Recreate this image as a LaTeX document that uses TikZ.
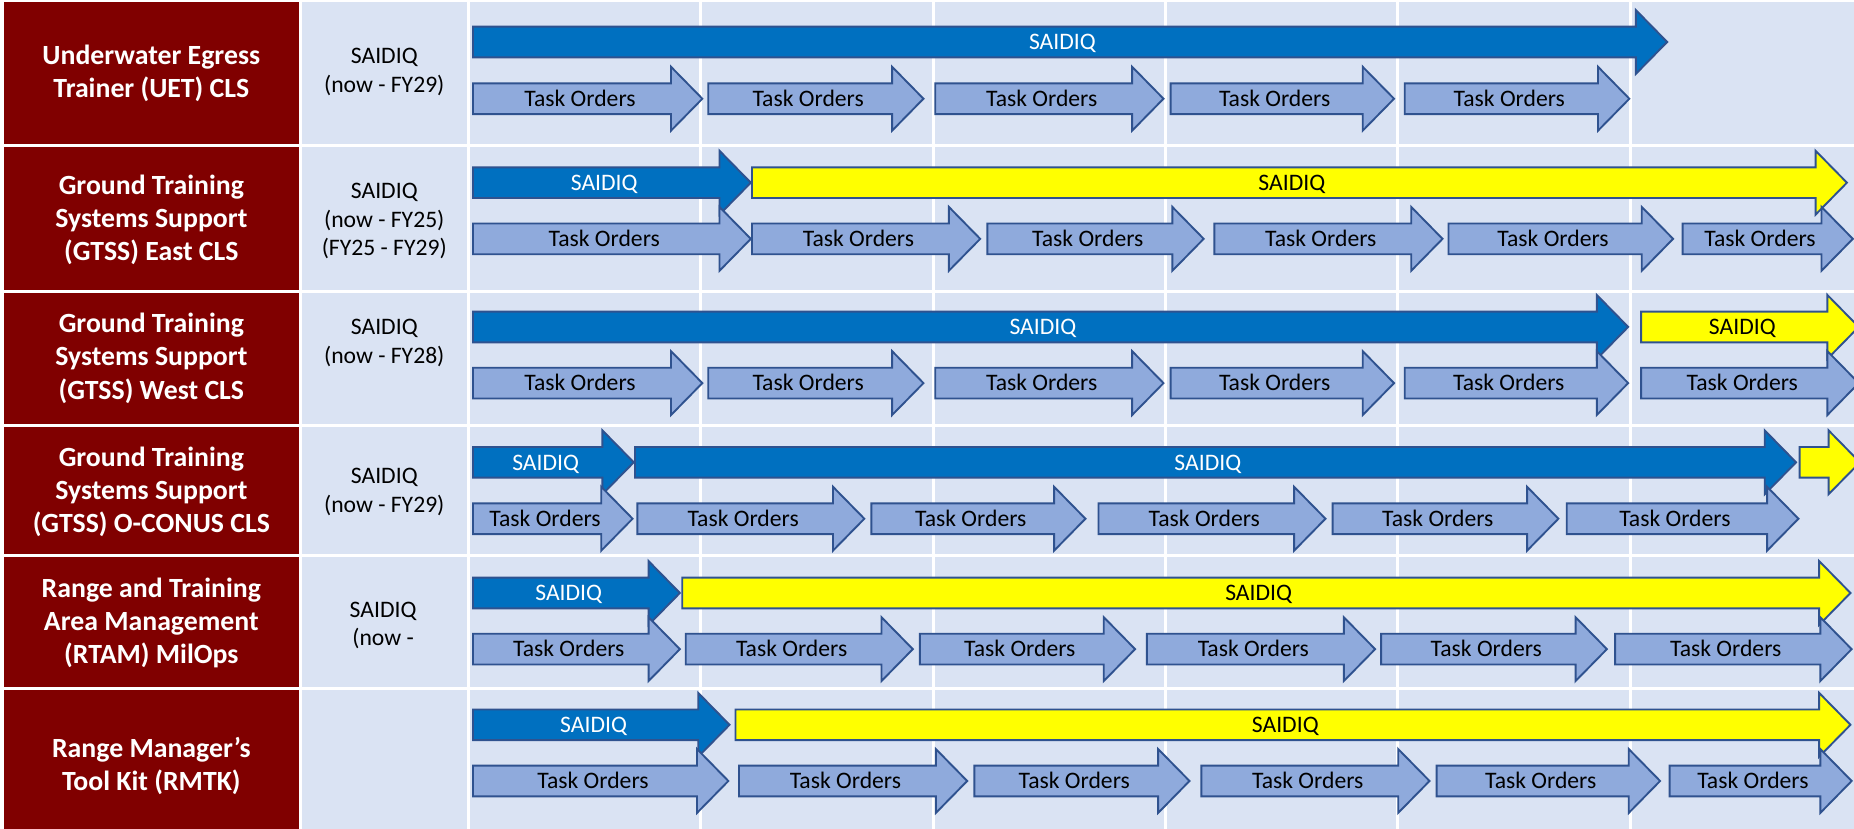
\documentclass[tikz,border=0pt]{standalone}
\usepackage{fontspec}
\setmainfont{Carlito}
\definecolor{darkred}{RGB}{128,0,0}
\definecolor{cellblue}{RGB}{218,227,243}
\definecolor{arrowblue}{RGB}{0,112,192}
\definecolor{edgeblue}{RGB}{47,82,143}
\definecolor{taskfill}{RGB}{143,170,220}
\definecolor{saidyel}{RGB}{255,255,0}
\tikzset{
  bluearr/.style={fill=arrowblue, draw=edgeblue, line width=1.6pt, line join=miter},
  yelarr/.style={fill=saidyel, draw=edgeblue, line width=1.6pt, line join=miter},
  taskarr/.style={fill=taskfill, draw=edgeblue, line width=1.6pt, line join=miter},
  arrtxt/.style={inner sep=0pt, anchor=base, font=\fontsize{20}{24}\selectfont},
  whitetxt/.style={arrtxt, text=white},
  blacktxt/.style={arrtxt, text=black},
  rowlabel/.style={inner sep=0pt, align=center, text=white, font=\fontsize{23.5}{28}\selectfont\bfseries},
  periodlabel/.style={inner sep=0pt, align=center, text=black, font=\fontsize{20}{24}\selectfont},
  gridline/.style={white, line width=2.6pt}
}
% name, x1, x2, yc, shape style, text style, text
\newcommand{\shapearrow}[7]{%
  \draw[#5] (#2,#4-13) -- (#3-26.5,#4-13) -- (#3-26.5,#4-27) -- (#3,#4)
    -- (#3-26.5,#4+27) -- (#3-26.5,#4+13) -- (#2,#4+13) -- cycle;
  \node[#6] (#1) at ({(#2+#3-13)/2},#4+6.5) {#7};
}
\begin{document}
\begin{tikzpicture}[x=1pt,y=-1pt]
\useasboundingbox (0,0) rectangle (1568,701);
\clip (0,0) rectangle (1568,701);
% background
\fill[white] (0,0) rectangle (1568,701);
\fill[cellblue] (255,1.5) rectangle (1568,701);
\fill[darkred] (3,1.5) rectangle (253,701);
% grid lines
\foreach \gx in {254,396,592.5,789.5,986,1182,1379}
  \draw[gridline] (\gx,0) -- (\gx,701);
\foreach \gy in {123.4,246.5,360,470.1,581.9}
  \draw[gridline] (0,\gy) -- (1568,\gy);

% column 1 labels
\node[rowlabel] (l1) at (128,62) {Underwater Egress\\Trainer (UET) CLS};
\node[rowlabel] (l2) at (128,186) {Ground Training\\Systems Support\\(GTSS) East CLS};
\node[rowlabel] (l3) at (128,303) {Ground Training\\Systems Support\\(GTSS) West CLS};
\node[rowlabel] (l4) at (128,416) {Ground Training\\Systems Support\\(GTSS) O-CONUS CLS};
\node[rowlabel] (l5) at (128,527) {Range and Training\\Area Management\\(RTAM) MilOps};
\node[rowlabel] (l6) at (128,648) {Range Manager’s\\Tool Kit (RMTK)};

% column 2 labels
\node[periodlabel] (p1) at (325,61) {SAIDIQ\\(now - FY29)};
\node[periodlabel] (p2) at (325,187) {SAIDIQ\\(now - FY25)\\(FY25 - FY29)};
\node[periodlabel] (p3) at (325,290) {SAIDIQ\\(now - FY28)};
\node[periodlabel] (p4) at (325,416) {SAIDIQ\\(now - FY29)};
\node[periodlabel] (p5) at (324,529) {SAIDIQ\\(now -};

% row 1
\shapearrow{s1a}{400}{1410}{35.5}{bluearr}{whitetxt}{SAIDIQ}
\shapearrow{t1a}{400}{594}{83.5}{taskarr}{blacktxt}{Task Orders}
\shapearrow{t1b}{599}{781}{83.5}{taskarr}{blacktxt}{Task Orders}
\shapearrow{t1c}{791}{984}{83.5}{taskarr}{blacktxt}{Task Orders}
\shapearrow{t1d}{990}{1179}{83.5}{taskarr}{blacktxt}{Task Orders}
\shapearrow{t1e}{1188}{1378}{83.5}{taskarr}{blacktxt}{Task Orders}

% row 2
\shapearrow{s2a}{400}{635}{154.5}{bluearr}{whitetxt}{SAIDIQ}
\shapearrow{s2b}{636}{1562}{154.5}{yelarr}{blacktxt}{SAIDIQ}
\shapearrow{t2a}{400}{635}{202}{taskarr}{blacktxt}{Task Orders}
\shapearrow{t2b}{636}{829}{202}{taskarr}{blacktxt}{Task Orders}
\shapearrow{t2c}{835}{1018}{202}{taskarr}{blacktxt}{Task Orders}
\shapearrow{t2d}{1027}{1220}{202}{taskarr}{blacktxt}{Task Orders}
\shapearrow{t2e}{1225}{1415}{202}{taskarr}{blacktxt}{Task Orders}
\shapearrow{t2f}{1423}{1567}{202}{taskarr}{blacktxt}{Task Orders}

% row 3
\shapearrow{s3a}{400}{1377}{276.5}{bluearr}{whitetxt}{SAIDIQ}
\shapearrow{s3b}{1388}{1572}{276.5}{yelarr}{blacktxt}{SAIDIQ}
\shapearrow{t3a}{400}{594}{324}{taskarr}{blacktxt}{Task Orders}
\shapearrow{t3b}{599}{781}{324}{taskarr}{blacktxt}{Task Orders}
\shapearrow{t3c}{791}{984}{324}{taskarr}{blacktxt}{Task Orders}
\shapearrow{t3d}{990}{1179}{324}{taskarr}{blacktxt}{Task Orders}
\shapearrow{t3e}{1188}{1377}{324}{taskarr}{blacktxt}{Task Orders}
\shapearrow{t3f}{1388}{1572}{324}{taskarr}{blacktxt}{Task Orders}

% row 4
\shapearrow{s4a}{400}{536}{391}{bluearr}{whitetxt}{SAIDIQ}
\shapearrow{s4b}{537}{1519}{391}{bluearr}{whitetxt}{SAIDIQ}
\shapearrow{s4c}{1522}{1573}{391}{yelarr}{blacktxt}{}
\shapearrow{t4a}{400}{535}{438.7}{taskarr}{blacktxt}{Task Orders}
\shapearrow{t4b}{539}{731}{438.7}{taskarr}{blacktxt}{Task Orders}
\shapearrow{t4c}{737}{918}{438.7}{taskarr}{blacktxt}{Task Orders}
\shapearrow{t4d}{929}{1121}{438.7}{taskarr}{blacktxt}{Task Orders}
\shapearrow{t4e}{1127}{1318}{438.7}{taskarr}{blacktxt}{Task Orders}
\shapearrow{t4f}{1325}{1521}{438.7}{taskarr}{blacktxt}{Task Orders}

% row 5
\shapearrow{s5a}{400}{575}{501.5}{bluearr}{whitetxt}{SAIDIQ}
\shapearrow{s5b}{577}{1565}{501.5}{yelarr}{blacktxt}{SAIDIQ}
\shapearrow{t5a}{400}{575}{549}{taskarr}{blacktxt}{Task Orders}
\shapearrow{t5b}{580}{772}{549}{taskarr}{blacktxt}{Task Orders}
\shapearrow{t5c}{778}{960}{549}{taskarr}{blacktxt}{Task Orders}
\shapearrow{t5d}{970}{1163}{549}{taskarr}{blacktxt}{Task Orders}
\shapearrow{t5e}{1168}{1359}{549}{taskarr}{blacktxt}{Task Orders}
\shapearrow{t5f}{1366}{1566}{549}{taskarr}{blacktxt}{Task Orders}

% row 6
\shapearrow{s6a}{400}{617}{613}{bluearr}{whitetxt}{SAIDIQ}
\shapearrow{s6b}{622}{1565}{613}{yelarr}{blacktxt}{SAIDIQ}
\shapearrow{t6a}{400}{616}{660.5}{taskarr}{blacktxt}{Task Orders}
\shapearrow{t6b}{625}{818}{660.5}{taskarr}{blacktxt}{Task Orders}
\shapearrow{t6c}{824}{1006}{660.5}{taskarr}{blacktxt}{Task Orders}
\shapearrow{t6d}{1016}{1209}{660.5}{taskarr}{blacktxt}{Task Orders}
\shapearrow{t6e}{1215}{1404}{660.5}{taskarr}{blacktxt}{Task Orders}
\shapearrow{t6f}{1412}{1566}{660.5}{taskarr}{blacktxt}{Task Orders}
\end{tikzpicture}
\end{document}
